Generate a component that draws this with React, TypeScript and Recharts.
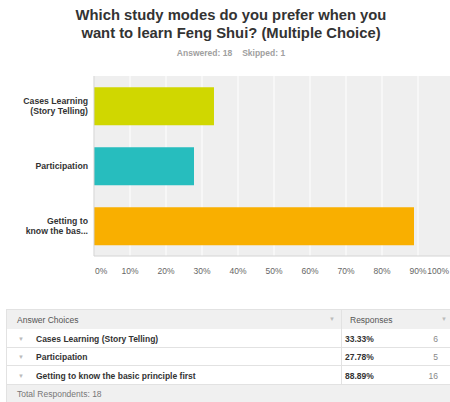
import React from 'react';
import { BarChart, Bar, XAxis, YAxis, CartesianGrid, Cell } from 'recharts';

const categories = ['Cases Learning (Story Telling)', 'Participation', 'Getting to know the basic principle first'];
const axisLabels = [['Cases Learning', '(Story Telling)'], ['Participation'], ['Getting to', 'know the bas...']];
const percents = [33.33, 27.78, 88.89];
const counts = [6, 5, 16];
const barColors = ['#d0d700', '#27bdbe', '#f9af00'];
const xTicks = [0, 10, 20, 30, 40, 50, 60, 70, 80, 90, 100];

const data = categories.map((name, i) => ({ name, value: percents[i], lines: axisLabels[i] }));

const font = '"Liberation Sans", Arial, sans-serif';

const YTick = (props: any) => {
  const { y, payload } = props;
  const lines = axisLabels[payload.index] || [payload.value];
  const start = -((lines.length - 1) * 10) / 2;
  return (
    <text x={88} y={y} textAnchor="end" fontSize={8.7} fontWeight="bold" fill="#333" fontFamily={font}>
      {lines.map((l: string, i: number) => (
        <tspan key={i} x={88} y={y + start + i * 10} dy="0.35em">{l}</tspan>
      ))}
    </text>
  );
};

const XTick = (props: any) => {
  const { x, payload } = props;
  let anchor = 'middle';
  let tx = x;
  if (payload.value === 0) { anchor = 'start'; tx = x + 1; }
  if (payload.value === 100) { anchor = 'end'; tx = 449; }
  return (
    <text x={tx} y={271} textAnchor={anchor} dy="0.35em" fontSize={8.5} fill="#666" fontFamily={font}>
      {payload.value + '%'}
    </text>
  );
};

const cell = (extra: React.CSSProperties = {}): React.CSSProperties => ({
  position: 'absolute', whiteSpace: 'nowrap', lineHeight: '1', ...extra,
});

export default function App() {
  const rowTops = [329, 347.5, 366];
  return (
    <div style={{ position: 'absolute', left: 0, top: 0, width: 450, height: 402, overflow: 'hidden', background: '#fff', fontFamily: font }}>
      <div style={{ position: 'absolute', top: 0, left: 0, width: 462, zIndex: 2, textAlign: 'center' }}>
        <div style={{ fontSize: 14.8, fontWeight: 'bold', color: '#333', lineHeight: '18px', paddingTop: 6 }}>
          Which study modes do you prefer when you<br />want to learn Feng Shui? (Multiple Choice)
        </div>
        <div style={{ fontSize: 8.5, fontWeight: 'bold', color: '#a0a0a0', marginTop: 6 }}>
          <span>Answered: 18</span><span style={{ marginLeft: 10 }}>Skipped: 1</span>
        </div>
      </div>
      <div style={{ position: 'absolute', top: 0, left: 0 }}>
        <BarChart width={470} height={290} data={data} layout="vertical"
          margin={{ top: 76, right: 16, bottom: 0, left: 0 }} barCategoryGap="18.75%">
          <CartesianGrid horizontal={false} fill="#efefef" stroke="#ffffff" strokeWidth={1} />
          <XAxis type="number" domain={[0, 100]} ticks={xTicks} height={34}
            axisLine={{ stroke: '#d4d4d4' }} tickLine={false} tick={<XTick />} interval={0} />
          <YAxis type="category" dataKey="name" width={94}
            axisLine={{ stroke: '#d0d0d0' }} tickLine={false} tick={<YTick />} interval={0} />
          <Bar dataKey="value" isAnimationActive={false}>
            {data.map((d, i) => <Cell key={d.name} fill={barColors[i]} />)}
          </Bar>
        </BarChart>
      </div>
      {/* table */}
      <div style={{ position: 'absolute', left: 6, top: 309, width: 460, height: 20, background: '#f0f0f0', borderTop: '1px solid #e2e2e2', borderLeft: '1px solid #e2e2e2', boxSizing: 'border-box' }} />
      <div style={cell({ left: 17, top: 316, fontSize: 8.5, color: '#555' })}>Answer Choices</div>
      <div style={cell({ left: 329, top: 316, fontSize: 6, color: '#bbb' })}>▼</div>
      <div style={cell({ left: 350, top: 316, fontSize: 8.5, color: '#555' })}>Responses</div>
      <div style={cell({ left: 441, top: 316, fontSize: 6, color: '#bbb' })}>▼</div>
      {categories.map((c, i) => (
        <React.Fragment key={c}>
          <div style={{ position: 'absolute', left: 6, top: rowTops[i], width: 460, height: 18.5, borderBottom: '1px solid #e2e2e2', borderLeft: '1px solid #e2e2e2', boxSizing: 'border-box', background: '#fff' }} />
          <div style={cell({ left: 18, top: rowTops[i] + 6.5, fontSize: 6, color: '#bbb' })}>▼</div>
          <div style={cell({ left: 36, top: rowTops[i] + 5.5, fontSize: 8.5, fontWeight: 'bold', color: '#333' })}>{c}</div>
          <div style={cell({ left: 345, top: rowTops[i] + 5.5, fontSize: 8.5, fontWeight: 'bold', color: '#333' })}>{percents[i].toFixed(2)}%</div>
          <div style={cell({ left: 400, width: 38, textAlign: 'right', top: rowTops[i] + 5.5, fontSize: 8.5, color: '#888' })}>{counts[i]}</div>
        </React.Fragment>
      ))}
      <div style={{ position: 'absolute', left: 341, top: 309, width: 1, height: 75.5, background: '#e2e2e2' }} />
      <div style={{ position: 'absolute', left: 6, top: 384.5, width: 460, height: 20, background: '#f0f0f0', borderLeft: '1px solid #e2e2e2', boxSizing: 'border-box' }} />
      <div style={cell({ left: 17, top: 390, fontSize: 8.5, color: '#777' })}>Total Respondents: 18</div>
    </div>
  );
}
